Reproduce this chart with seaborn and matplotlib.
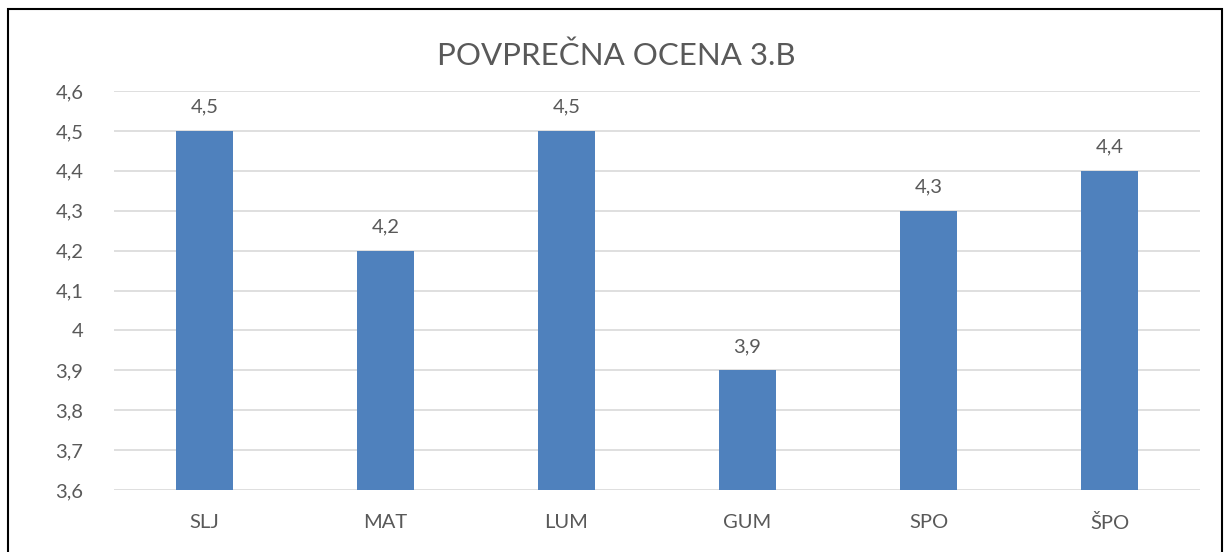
import matplotlib
matplotlib.use("Agg")
import matplotlib.pyplot as plt
from matplotlib.patches import Rectangle
from matplotlib.ticker import FuncFormatter, MultipleLocator
import seaborn as sns
import pandas as pd

# average grade per subject, class 3.B
subjects = ["SLJ", "MAT", "LUM", "GUM", "SPO", "ŠPO"]
grades = [4.5, 4.2, 4.5, 3.9, 4.3, 4.4]

sns.set_style("white")
plt.rcParams["font.family"] = ["Lato", "DejaVu Sans"]

text_grey = "#595959"
bar_blue = "#4F81BD"

df = pd.DataFrame({"predmet": subjects, "ocena": grades})

fig = plt.figure(figsize=(12.29, 5.52), dpi=100)
ax = fig.add_axes([114 / 1229, 1 - 490 / 552, (1200 - 114) / 1229, (490 - 91) / 552])

sns.barplot(data=df, x="predmet", y="ocena", hue="predmet", palette=[bar_blue] * len(subjects),
            width=0.315, legend=False, ax=ax, saturation=1, linewidth=0, zorder=3)

ax.set_ylim(3.6, 4.6)
ax.set_xlim(-0.5, len(subjects) - 0.5)
ax.yaxis.set_major_locator(MultipleLocator(0.1))


def comma_fmt(v, pos=None):
    s = f"{v:.1f}"
    if s.endswith(".0"):
        s = s[:-2]
    return s.replace(".", ",")


ax.yaxis.set_major_formatter(FuncFormatter(comma_fmt))
ax.grid(axis="y", color="#D9D9D9", linewidth=1.2, zorder=0)
ax.set_axisbelow(True)
for sp in ax.spines.values():
    sp.set_visible(False)

ax.tick_params(axis="both", length=0, labelsize=14.5, colors=text_grey)
ax.tick_params(axis="y", pad=22)
ax.tick_params(axis="x", pad=17)
ax.set_xlabel("")
ax.set_ylabel("")

for i, g in enumerate(grades):
    ax.annotate(comma_fmt(g), (i, g), xytext=(0, 11), textcoords="offset points",
                ha="center", va="bottom", fontsize=14.5, color=text_grey)

fig.text(616 / 1229, 1 - 56 / 552, "POVPREČNA OCENA 3.B", ha="center", va="center",
         fontsize=22.5, color=text_grey)

# chart frame
fig.patches.append(Rectangle((8 / 1229, -0.1), (1222 - 8) / 1229, 1.1 - 9 / 552,
                             transform=fig.transFigure, fill=False, edgecolor="black",
                             linewidth=1.5))

fig.savefig("out.png", dpi=100)
